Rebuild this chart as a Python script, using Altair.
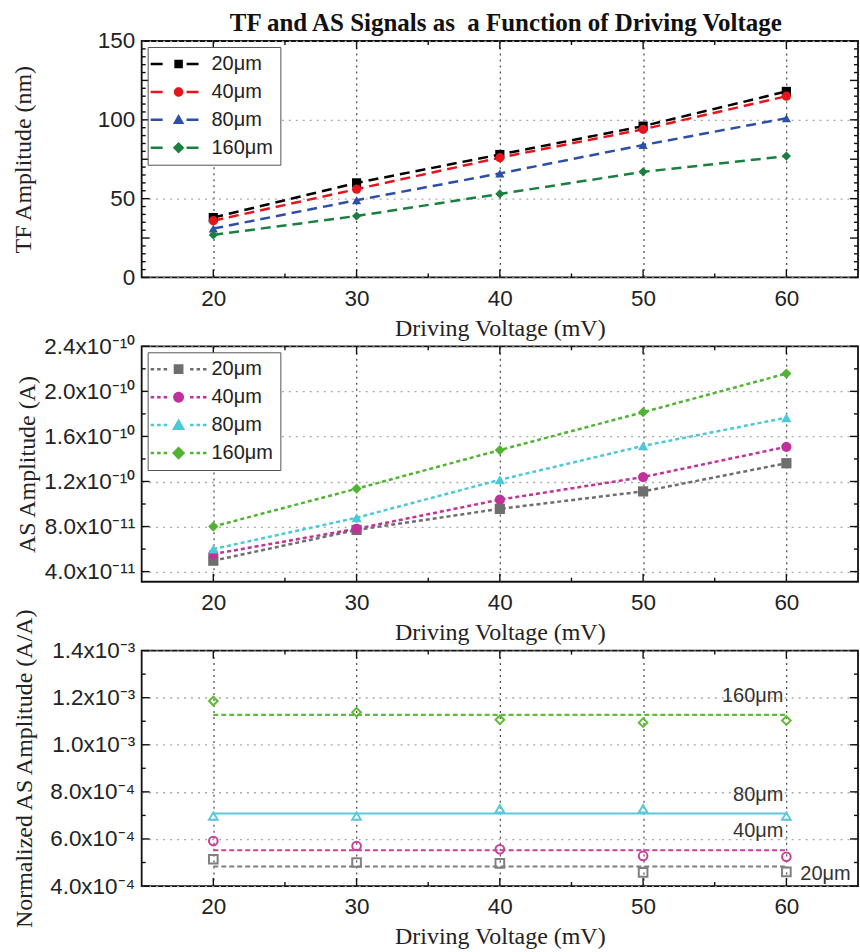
import altair as alt
import pandas as pd

# ---------------- data ----------------
voltages = [20, 30, 40, 50, 60]
sizes = ["20μm", "40μm", "80μm", "160μm"]

tf_20um = [38, 60, 78, 96, 118]
tf_40um = [36, 56, 76, 94, 115]
tf_80um = [31, 49, 66, 84, 101]
tf_160um = [27, 39, 53, 67, 77]

as_20um = [4.97e-11, 7.70e-11, 9.57e-11, 1.112e-10, 1.362e-10]
as_40um = [5.56e-11, 7.80e-11, 1.039e-10, 1.239e-10, 1.508e-10]
as_80um = [6.00e-11, 8.78e-11, 1.215e-10, 1.516e-10, 1.766e-10]
as_160um = [8.00e-11, 1.136e-10, 1.479e-10, 1.815e-10, 2.158e-10]

norm_20um = [5.14e-4, 5.00e-4, 4.96e-4, 4.58e-4, 4.60e-4]
norm_40um = [5.91e-4, 5.70e-4, 5.56e-4, 5.28e-4, 5.24e-4]
norm_80um = [6.97e-4, 6.97e-4, 7.28e-4, 7.28e-4, 6.97e-4]
norm_160um = [1.186e-3, 1.138e-3, 1.106e-3, 1.094e-3, 1.103e-3]
norm_fit = [4.83e-4, 5.52e-4, 7.08e-4, 1.127e-3]

x_ticks = [20, 30, 40, 50, 60]
x_minor = [25, 35, 45, 55]
tf_ticks = [0, 25, 50, 75, 100, 125, 150]
tf_minor = [5, 10, 15, 20, 30, 35, 40, 45, 55, 60, 65, 70, 80, 85, 90, 95,
            105, 110, 115, 120, 130, 135, 140, 145]
as_ticks = [4e-11, 8e-11, 1.2e-10, 1.6e-10, 2.0e-10, 2.4e-10]
as_minor = [6e-11, 1.0e-10, 1.4e-10, 1.8e-10, 2.2e-10]
norm_ticks = [4e-4, 6e-4, 8e-4, 1.0e-3, 1.2e-3, 1.4e-3]
norm_minor = [5e-4, 7e-4, 9e-4, 1.1e-3, 1.3e-3]

colors_tf = ["#000000", "#e8141c", "#2e4fa8", "#1a8040"]
colors_as = ["#6e6e6e", "#c0329a", "#4cc8d8", "#50b432"]
colors_norm = ["#808080", "#c8409c", "#5cc8dc", "#60bb38"]
shapes4 = ["square", "circle", "triangle-up", "diamond"]
dash_norm = [[5, 3], [5, 3], [1, 0], [5, 3]]

TITLE = "TF and AS Signals as\u00a0 a Function of Driving Voltage"
W = 718

LABEL_FONT = "Liberation Sans"
SERIF = "Liberation Serif"
TICK_FS = 22.5
TITLE_FS = 24


def long_df(series):
    rows = []
    for s, vals in zip(sizes, series):
        for v, a in zip(voltages, vals):
            rows.append({"S": s, "V": v, "A": a})
    return pd.DataFrame(rows)


df_tf = long_df([tf_20um, tf_40um, tf_80um, tf_160um])
df_as = long_df([as_20um, as_40um, as_80um, as_160um])
df_norm = long_df([norm_20um, norm_40um, norm_80um, norm_160um])


def pick(values):
    """Vega expression picking a per-series value from a list."""
    def lit(v):
        return f"'{v}'" if isinstance(v, str) else str(v)
    expr = lit(values[-1])
    for s, v in reversed(list(zip(sizes[:-1], values[:-1]))):
        expr = f"datum.S === '{s}' ? {lit(v)} : ({expr})"
    return alt.ExprRef(expr)


# ---------------- legend glyphs ----------------
def rect(x0, x1, h=0.25):
    return f"M{x0},{-h}H{x1}V{h}H{x0}Z"


def markers(k):
    return [
        f"M{-0.85*k},{-0.85*k}H{0.85*k}V{0.85*k}H{-0.85*k}Z",
        f"M{0.95*k},0A{0.95*k},{0.95*k},0,1,1,{-0.95*k},0A{0.95*k},{0.95*k},0,1,1,{0.95*k},0Z",
        f"M0,{-1.15*k}L{1.15*k},{0.85*k}L{-1.15*k},{0.85*k}Z",
        f"M0,{-1.15*k}L{1.15*k},0L0,{1.15*k}L{-1.15*k},0Z",
    ]


def legend_shape_expr(dash_path, k):
    m = markers(k)
    expr = f"'{dash_path}{m[-1]}'"
    for s, mk in reversed(list(zip(sizes[:-1], m[:-1]))):
        expr = f"datum.value === '{s}' ? '{dash_path}{mk}' : ({expr})"
    return expr


dash_tf = rect(-5.6, -3.2) + rect(1.6, 4.0)
dash_as = "".join(rect(a, b) for a, b in [(-5.6, -4.9), (-4.3, -3.6), (-3.0, -2.3),
                                          (2.3, 3.0), (3.6, 4.3), (4.9, 5.6)])


def make_legend(expr):
    return alt.Legend(
        title=None, orient="top-left", offset=6, padding=7,
        fillColor="white", strokeColor="#555",
        labelFont=LABEL_FONT, labelFontSize=20, labelColor="#222",
        symbolSize=100, symbolOffset=14, labelOffset=23, rowPadding=8,
        symbolStrokeWidth=0,
        labelExpr="datum.label + '\u00a0\u00a0\u00a0\u00a0'",
        symbolType=alt.ExprRef(expr),
    )


sup_expr = (
    "format(datum.value / pow(10, floor(log(datum.value)/LN10 + 1e-9)), '.1f') + 'x10' + "
    "replace(replace(replace(replace(replace(toString(floor(log(datum.value)/LN10 + 1e-9)), "
    "'-', '\u207b'), regexp('1','g'), '\u00b9'), regexp('0','g'), '\u2070'), '3', '\u00b3'), '4', '\u2074')"
)


def panel(df, ydomain, yticks, yminor, ytitle, title_x, colors, height,
          line_dash=None, psize=75, filled=True, legend=None, label_expr=None, extra=()):
    xs = alt.Scale(domain=[15, 65], nice=False, zero=False)
    ys = alt.Scale(domain=ydomain, nice=False, zero=False)
    xaxis = alt.Axis(values=x_ticks, grid=True, gridColor="#555", gridDash=[2, 4],
                     gridWidth=1.3, ticks=False, domain=False, labelPadding=10,
                     labelFont=LABEL_FONT, labelFontSize=TICK_FS, labelColor="#222",
                     title="Driving Voltage (mV)", titleFont=SERIF,
                     titleFontSize=TITLE_FS, titleFontWeight="normal", titleColor="#222",
                     titleY=58, titleBaseline="alphabetic")
    yargs = dict(values=yticks, grid=True, gridColor="#aaa", gridDash=[2, 5],
                 gridWidth=1.3, ticks=False, domain=False, labelPadding=7,
                 labelFont=LABEL_FONT, labelFontSize=TICK_FS, labelColor="#222",
                 title=ytitle, titleFont=SERIF, titleFontSize=TITLE_FS,
                 titleFontWeight="normal", titleColor="#222", titleX=title_x,
                 titleBaseline="middle")
    if label_expr:
        yargs["labelExpr"] = label_expr
    yaxis = alt.Axis(**yargs)
    X = alt.X("V:Q", scale=xs)
    Y = alt.Y("A:Q", scale=ys)
    base = alt.Chart(df)
    layers = [base.mark_point(opacity=0).encode(
        x=alt.X("V:Q", scale=xs, axis=xaxis), y=alt.Y("A:Q", scale=ys, axis=yaxis))]
    layers.extend(extra)
    if line_dash is not None:
        layers.append(base.mark_line(strokeWidth=2.5, strokeDash=line_dash,
                                     stroke=pick(colors)).encode(x=X, y=Y, detail="S:N"))
    if legend is not None:
        pts = base.mark_point(filled=filled, opacity=1, size=psize, strokeWidth=2,
                              shape=pick(shapes4)).encode(
            x=X, y=Y,
            color=alt.Color("S:N", scale=alt.Scale(domain=sizes, range=colors), legend=legend))
    else:
        pts = base.mark_point(filled=False, opacity=1, size=psize, strokeWidth=2,
                              shape=pick(shapes4), stroke=pick(colors)).encode(x=X, y=Y)
    layers.append(pts)
    for vals, ln in [(yticks, 8), (yminor, 4)]:
        tdf = pd.DataFrame({"A": vals})
        for x0, x1 in [(0, ln), (W, W - ln)]:
            layers.append(alt.Chart(tdf).mark_rule(color="#111", strokeWidth=1.4).encode(
                y=Y, x=alt.value(x0), x2=alt.value(x1)))
    for vals, ln in [(x_ticks, 8), (x_minor, 4)]:
        tdf = pd.DataFrame({"V": vals})
        for y0, y1 in [(0, ln), (height, height - ln)]:
            layers.append(alt.Chart(tdf).mark_rule(color="#111", strokeWidth=1.4).encode(
                x=X, y=alt.value(y0), y2=alt.value(y1)))
    return alt.layer(*layers).properties(width=W, height=height)


p1 = panel(df_tf, [0, 150], tf_ticks, tf_minor, "TF Amplitude (nm)", -118,
           colors_tf, 237, line_dash=[10, 6], psize=85,
           legend=make_legend(legend_shape_expr(dash_tf, 1.0)))
p1 = p1.properties(title=alt.TitleParams(
    TITLE, font=SERIF, fontSize=25, fontWeight="bold", color="#111",
    anchor="middle", offset=-6, dx=6))

p2 = panel(df_as, [3.1e-11, 2.4e-10], as_ticks, as_minor, "AS Amplitude (A)", -114,
           colors_as, 236, line_dash=[4, 3], psize=105,
           legend=make_legend(legend_shape_expr(dash_as, 1.15)), label_expr=sup_expr)

# panel 3: fitted level lines + labels
xs3 = alt.Scale(domain=[15, 65], nice=False, zero=False)
ys3 = alt.Scale(domain=[4e-4, 1.4e-3], nice=False, zero=False)
fit_rows = []
for s, lvl in zip(sizes, norm_fit):
    for v in (voltages[0], voltages[-1]):
        fit_rows.append({"S": s, "V": v, "A": lvl})
df_fit = pd.DataFrame(fit_rows)
fit_lines = alt.Chart(df_fit).mark_line(
    strokeWidth=2.2, stroke=pick(colors_norm), strokeDash=pick(dash_norm)).encode(
    x=alt.X("V:Q", scale=xs3), y=alt.Y("A:Q", scale=ys3), detail="S:N")
df_lab = pd.DataFrame({"S": sizes, "V": [voltages[-1]] * 4, "A": norm_fit})
lab_right = alt.Chart(df_lab).transform_filter("datum.S !== '20μm'").mark_text(
    align="right", baseline="middle", dx=-3, dy=-19, font=LABEL_FONT,
    fontSize=20, color="#333").encode(
    x=alt.X("V:Q", scale=xs3), y=alt.Y("A:Q", scale=ys3), text="S:N")
lab_left = alt.Chart(df_lab).transform_filter("datum.S === '20μm'").mark_text(
    align="left", baseline="middle", dx=14, dy=8, font=LABEL_FONT,
    fontSize=20, color="#333").encode(
    x=alt.X("V:Q", scale=xs3), y=alt.Y("A:Q", scale=ys3), text="S:N")

p3 = panel(df_norm, [4e-4, 1.4e-3], norm_ticks, norm_minor,
           "Normalized AS Amplitude (A/A)", -117, colors_norm, 236,
           line_dash=None, psize=75, legend=None, label_expr=sup_expr,
           extra=(fit_lines, lab_right, lab_left))

chart = alt.vconcat(p1, p2, p3, spacing=69, bounds="flush").resolve_scale(
    color="independent"
).configure(
    padding={"left": 11, "top": 9, "right": 0, "bottom": 0}, background="white"
).configure_view(stroke="#111", strokeWidth=1.8)

chart.save("out.html", embed_options={"renderer": "svg", "actions": False})
